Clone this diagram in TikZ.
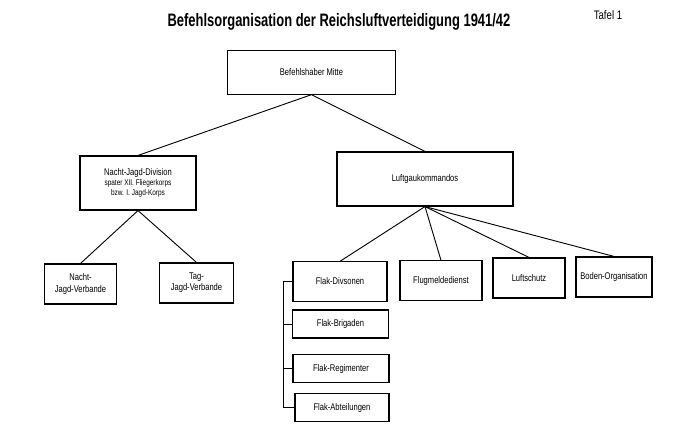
\documentclass[tikz,border=0pt]{standalone}
\usepackage{fontspec}
\setmainfont[FakeStretch=0.78]{Liberation Sans}
\newfontfamily\titlefont[FakeStretch=0.72]{Liberation Sans}
\usetikzlibrary{positioning,calc}

\begin{document}
\begin{tikzpicture}[x=0.025cm, y=-0.025cm,
  box/.style={rectangle, draw, line width=0.8pt, minimum width=#1, align=center, font=\fontsize{6.9}{8}\selectfont, inner sep=1pt},
  link/.style={line width=0.65pt}
]
  \useasboundingbox (0,0) rectangle (700,440);

  \node[font=\titlefont\bfseries\fontsize{12.8}{14}\selectfont] (title) at (339,22) {Befehlsorganisation der Reichsluftverteidigung 1941/42};
  \node[font=\fontsize{8.8}{10}\selectfont] (tafel) at (608,15) {Tafel 1};

  \node[box=4.18cm, minimum height=1.08cm] (bm) at (311.5,72.5) {Befehlshaber Mitte};
  \node[box=2.9cm, minimum height=1.35cm] (njd) at (138,183) {Nacht-Jagd-Division\\[-1pt]{\fontsize{5.9}{7}\selectfont spater XII. Fliegerkorps}\\[-1pt]{\fontsize{5.9}{7}\selectfont bzw. I. Jagd-Korps}};
  \node[box=4.4cm, minimum height=1.35cm] (lgk) at (425,179) {Luftgaukommandos};

  \node[box=1.78cm, minimum height=1.0cm] (njv) at (80.5,284) {Nacht-\\Jagd-Verbande};
  \node[box=1.83cm, minimum height=1.0cm] (tjv) at (196.5,283) {Tag-\\Jagd-Verbande};

  \node[box=2.35cm, minimum height=0.98cm] (fd) at (340,281.5) {Flak-Divsonen};
  \node[box=2.05cm, minimum height=0.98cm] (fm) at (441,280.5) {Flugmeldedienst};
  \node[box=1.8cm, minimum height=1.0cm] (ls) at (529,278) {Luftschutz};
  \node[box=1.9cm, minimum height=1.0cm] (bo) at (614,277) {Boden-Organisation};

  \node[box=2.38cm, minimum height=0.7cm] (fb) at (340.5,324) {Flak-Brigaden};
  \node[box=2.4cm, minimum height=0.72cm] (fr) at (341,368.5) {Flak-Regimenter};
  \node[box=2.35cm, minimum height=0.72cm] (fa) at (342,407.5) {Flak-Abteilungen};

  \draw[link] (bm.south) -- (njd.north);
  \draw[link] (bm.south) -- (lgk.north);
  \draw[link] (njd.south) -- (njv.north);
  \draw[link] (njd.south) -- (tjv.north);
  \draw[link] (lgk.south) -- (fd.north);
  \draw[link] (lgk.south) -- (fm.north);
  \draw[link] (lgk.south) -- (ls.north);
  \draw[link] (lgk.south) -- (bo.north);

  % Flak-Leiste links
  \draw[link] (fd.west) -- ++(-9,0) coordinate (trunk) |- (fa.west);
  \draw[link] (trunk |- fb.west) -- (fb.west);
  \draw[link] (trunk |- fr.west) -- (fr.west);
\end{tikzpicture}
\end{document}
